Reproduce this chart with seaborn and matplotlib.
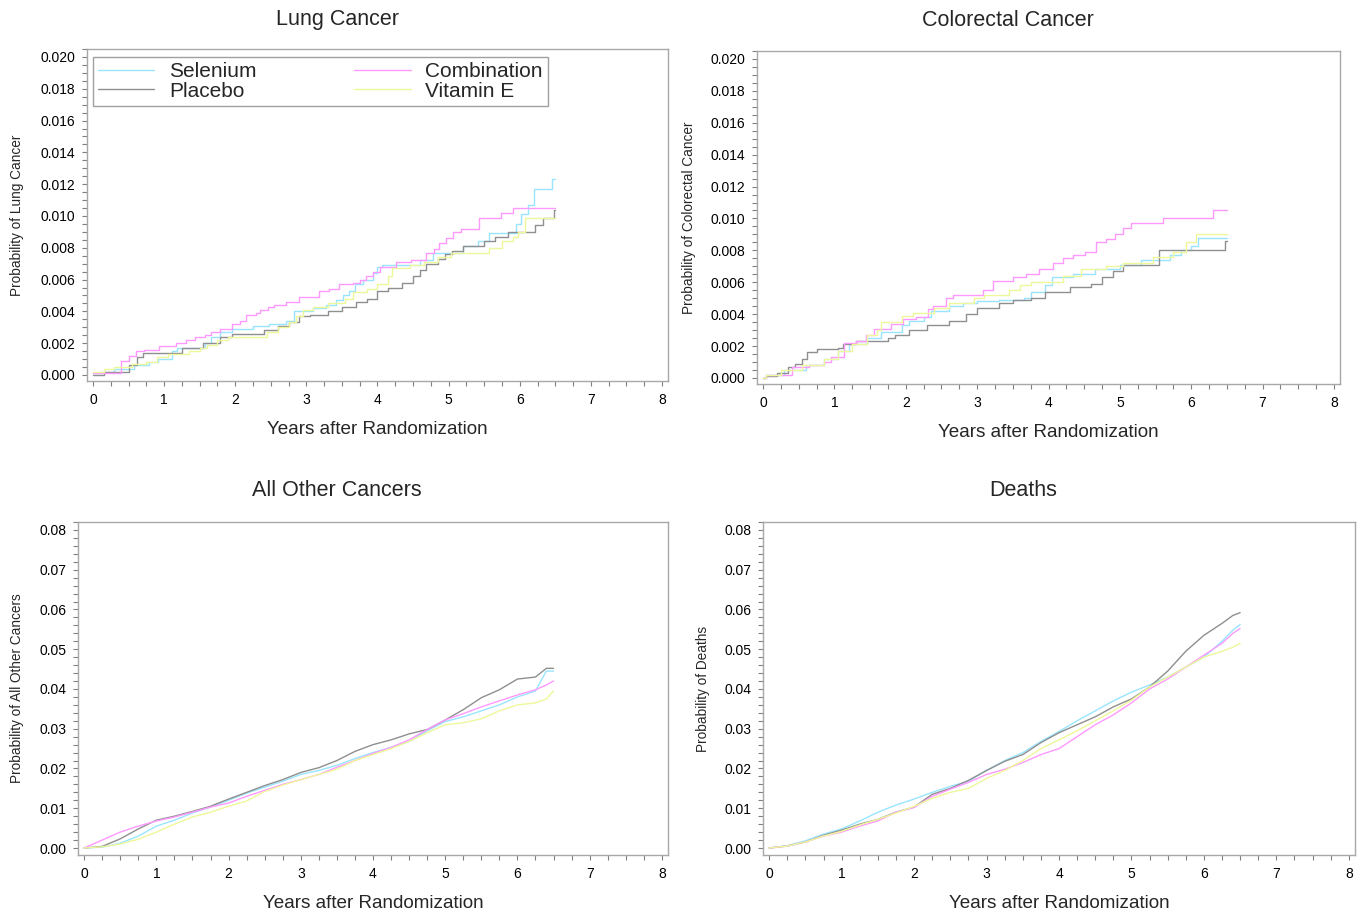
import pandas as pd
import matplotlib.pyplot as plt
import seaborn as sns
from matplotlib.lines import Line2D
from matplotlib.ticker import MultipleLocator, FormatStrFormatter

# %% 데이터 (그림에서 읽은 누적 확률 값)
GROUPS = ["Selenium", "Placebo", "Combination", "Vitamin E"]
COLORS = {"Selenium": "#99e5ff", "Placebo": "#8f8f8f",
          "Combination": "#ff99ff", "Vitamin E": "#eef79a"}

# Lung Cancer (step curves)
LUNG_SEL_YEARS = [0.00, 0.10, 0.30, 0.58, 0.78, 0.92, 1.11, 1.18, 1.57, 1.66, 1.78, 1.96, 2.25, 2.48, 2.71,
                  2.83, 3.09, 3.28, 3.42, 3.51, 3.60, 3.68, 3.79, 3.93, 4.00, 4.07, 4.60, 4.78, 5.20, 5.41,
                  5.57, 5.95, 6.02, 6.11, 6.20, 6.46, 6.50]
LUNG_SEL_PROB = [0.0001, 0.0002, 0.0004, 0.0006, 0.0008, 0.0010, 0.0015, 0.0017, 0.0020, 0.0024, 0.0027,
                 0.0029, 0.0031, 0.0032, 0.0034, 0.0040, 0.0042, 0.0044, 0.0047, 0.0050, 0.0053, 0.0057,
                 0.0060, 0.0064, 0.0068, 0.0069, 0.0072, 0.0077, 0.0081, 0.0084, 0.0089, 0.0095, 0.0101,
                 0.0107, 0.0117, 0.0123, 0.0123]
LUNG_PLA_YEARS = [0.00, 0.15, 0.50, 0.62, 0.70, 1.25, 1.55, 1.78, 1.95, 2.40, 2.60, 2.75, 2.90, 3.05, 3.30,
                  3.50, 3.70, 3.85, 4.00, 4.15, 4.35, 4.50, 4.60, 4.68, 4.85, 4.95, 5.05, 5.20, 5.50, 5.65,
                  5.83, 6.21, 6.33, 6.48, 6.50]
LUNG_PLA_PROB = [0.0000, 0.0002, 0.0006, 0.0011, 0.0014, 0.0017, 0.0020, 0.0024, 0.0026, 0.0028, 0.0031,
                 0.0033, 0.0037, 0.0038, 0.0040, 0.0043, 0.0046, 0.0048, 0.0053, 0.0055, 0.0058, 0.0062,
                 0.0066, 0.0070, 0.0073, 0.0076, 0.0078, 0.0081, 0.0084, 0.0087, 0.0090, 0.0094, 0.0099,
                 0.0104, 0.0104]
LUNG_COM_YEARS = [0.00, 0.39, 0.51, 0.60, 0.72, 0.93, 1.17, 1.31, 1.43, 1.57, 1.66, 1.78, 1.96, 2.06, 2.15,
                  2.29, 2.35, 2.46, 2.55, 2.71, 2.90, 3.18, 3.32, 3.46, 3.65, 3.75, 3.84, 3.93, 4.03, 4.26,
                  4.47, 4.68, 4.80, 4.87, 4.96, 5.06, 5.18, 5.43, 5.74, 5.90, 6.50]
LUNG_COM_PROB = [0.0001, 0.0009, 0.0012, 0.0015, 0.0016, 0.0018, 0.0020, 0.0022, 0.0024, 0.0025, 0.0027,
                 0.0029, 0.0032, 0.0034, 0.0038, 0.0039, 0.0041, 0.0043, 0.0044, 0.0046, 0.0049, 0.0053,
                 0.0054, 0.0057, 0.0058, 0.0060, 0.0062, 0.0065, 0.0068, 0.0071, 0.0072, 0.0077, 0.0079,
                 0.0083, 0.0086, 0.0090, 0.0092, 0.0099, 0.0102, 0.0105, 0.0105]
LUNG_VIT_YEARS = [0.00, 0.15, 0.30, 0.55, 0.75, 0.90, 1.05, 1.35, 1.50, 1.60, 1.75, 1.90, 2.45, 2.60, 2.75,
                  2.85, 2.95, 3.10, 3.30, 3.55, 3.65, 3.85, 4.00, 4.15, 4.20, 4.45, 4.65, 4.85, 5.04, 5.57,
                  5.75, 5.90, 5.97, 6.07, 6.50]
LUNG_VIT_PROB = [0.0002, 0.0004, 0.0005, 0.0007, 0.0008, 0.0011, 0.0013, 0.0015, 0.0017, 0.0019, 0.0022,
                 0.0024, 0.0027, 0.0030, 0.0033, 0.0037, 0.0041, 0.0043, 0.0045, 0.0048, 0.0052, 0.0054,
                 0.0057, 0.0062, 0.0067, 0.0069, 0.0071, 0.0074, 0.0077, 0.0080, 0.0084, 0.0087, 0.0090,
                 0.0099, 0.0099]

# Colorectal Cancer (step curves)
CRC_SEL_YEARS = [0.00, 0.04, 0.30, 0.60, 0.85, 1.05, 1.20, 1.45, 1.65, 1.95, 2.05, 2.25, 2.35, 2.60, 2.80,
                 3.00, 3.30, 3.65, 3.75, 3.95, 4.05, 4.35, 4.65, 5.00, 5.30, 5.70, 5.85, 6.00, 6.10, 6.50]
CRC_SEL_PROB = [0.0000, 0.0002, 0.0005, 0.0008, 0.0012, 0.0017, 0.0021, 0.0025, 0.0029, 0.0033, 0.0036,
                0.0038, 0.0042, 0.0045, 0.0047, 0.0048, 0.0049, 0.0050, 0.0054, 0.0058, 0.0063, 0.0065,
                0.0068, 0.0071, 0.0074, 0.0077, 0.0080, 0.0083, 0.0088, 0.0088]
CRC_PLA_YEARS = [0.00, 0.04, 0.20, 0.35, 0.45, 0.55, 0.62, 0.75, 1.05, 1.12, 1.30, 1.75, 1.85, 2.05, 2.30,
                 2.60, 2.85, 3.00, 3.30, 3.50, 3.75, 3.95, 4.30, 4.60, 4.75, 4.90, 5.05, 5.55, 6.47, 6.50]
CRC_PLA_PROB = [0.0000, 0.0001, 0.0003, 0.0007, 0.0009, 0.0012, 0.0016, 0.0018, 0.0019, 0.0021, 0.0023,
                0.0025, 0.0027, 0.0030, 0.0033, 0.0036, 0.0040, 0.0044, 0.0047, 0.0049, 0.0050, 0.0054,
                0.0057, 0.0059, 0.0063, 0.0067, 0.0071, 0.0080, 0.0086, 0.0086]
CRC_COM_YEARS = [0.00, 0.04, 0.41, 0.65, 0.86, 0.95, 1.14, 1.30, 1.44, 1.56, 1.79, 1.96, 2.14, 2.31, 2.38,
                 2.56, 2.66, 3.08, 3.22, 3.50, 3.69, 3.87, 4.06, 4.20, 4.34, 4.51, 4.67, 4.81, 4.93, 5.04,
                 5.16, 5.61, 6.31, 6.50]
CRC_COM_PROB = [0.0000, 0.0002, 0.0007, 0.0008, 0.0010, 0.0013, 0.0022, 0.0023, 0.0027, 0.0031, 0.0034,
                0.0037, 0.0038, 0.0043, 0.0045, 0.0050, 0.0052, 0.0055, 0.0061, 0.0063, 0.0065, 0.0068,
                0.0072, 0.0075, 0.0077, 0.0079, 0.0085, 0.0087, 0.0090, 0.0094, 0.0097, 0.0100, 0.0105,
                0.0105]
CRC_VIT_YEARS = [0.00, 0.04, 0.25, 0.55, 0.85, 1.05, 1.25, 1.45, 1.60, 1.65, 1.95, 2.10, 2.40, 2.60, 2.95,
                 3.10, 3.45, 3.60, 3.75, 4.20, 4.45, 4.80, 5.04, 5.47, 5.75, 5.93, 6.07, 6.50]
CRC_VIT_PROB = [0.0000, 0.0002, 0.0005, 0.0008, 0.0012, 0.0017, 0.0021, 0.0027, 0.0030, 0.0035, 0.0039,
                0.0041, 0.0044, 0.0047, 0.0050, 0.0052, 0.0055, 0.0058, 0.0060, 0.0064, 0.0068, 0.0070,
                0.0072, 0.0076, 0.0079, 0.0085, 0.0090, 0.0090]

# All Other Cancers / Deaths (dense curves, read on a common grid)
GRID_YEARS = [0.00, 0.25, 0.50, 0.75, 1.00, 1.25, 1.50, 1.75, 2.00, 2.25, 2.50, 2.75, 3.00, 3.25,
              3.50, 3.75, 4.00, 4.25, 4.50, 4.75, 5.00, 5.25, 5.50, 5.75, 6.00, 6.25, 6.40, 6.50]

OTHER_SEL = [0.0000, 0.0002, 0.0012, 0.0030, 0.0055, 0.0070, 0.0088, 0.0103, 0.0120, 0.0138, 0.0153,
             0.0168, 0.0185, 0.0195, 0.0208, 0.0225, 0.0240, 0.0253, 0.0268, 0.0295, 0.0318, 0.0330,
             0.0345, 0.0360, 0.0380, 0.0395, 0.0445, 0.0445]
OTHER_PLA = [0.0000, 0.0004, 0.0023, 0.0048, 0.0070, 0.0080, 0.0092, 0.0105, 0.0123, 0.0140, 0.0157,
             0.0172, 0.0190, 0.0202, 0.0220, 0.0243, 0.0260, 0.0272, 0.0287, 0.0298, 0.0322, 0.0348,
             0.0378, 0.0398, 0.0425, 0.0430, 0.0452, 0.0452]
OTHER_COM = [0.0000, 0.0020, 0.0040, 0.0055, 0.0068, 0.0078, 0.0090, 0.0103, 0.0113, 0.0130, 0.0145,
             0.0160, 0.0172, 0.0185, 0.0203, 0.0220, 0.0238, 0.0253, 0.0272, 0.0298, 0.0322, 0.0338,
             0.0355, 0.0370, 0.0385, 0.0398, 0.0410, 0.0420]
OTHER_VIT = [0.0000, 0.0003, 0.0010, 0.0022, 0.0040, 0.0060, 0.0078, 0.0090, 0.0105, 0.0118, 0.0142,
             0.0158, 0.0172, 0.0185, 0.0198, 0.0220, 0.0235, 0.0250, 0.0268, 0.0290, 0.0310, 0.0315,
             0.0325, 0.0345, 0.0360, 0.0365, 0.0375, 0.0395]

DEATH_SEL = [0.0000, 0.0006, 0.0018, 0.0035, 0.0048, 0.0068, 0.0090, 0.0108, 0.0123, 0.0140, 0.0155,
             0.0168, 0.0195, 0.0220, 0.0240, 0.0268, 0.0293, 0.0320, 0.0345, 0.0370, 0.0392, 0.0410,
             0.0430, 0.0455, 0.0480, 0.0520, 0.0548, 0.0562]
DEATH_PLA = [0.0000, 0.0005, 0.0015, 0.0032, 0.0045, 0.0060, 0.0072, 0.0090, 0.0103, 0.0135, 0.0150,
             0.0170, 0.0195, 0.0218, 0.0235, 0.0265, 0.0290, 0.0310, 0.0330, 0.0355, 0.0375, 0.0405,
             0.0445, 0.0495, 0.0535, 0.0565, 0.0585, 0.0592]
DEATH_COM = [0.0000, 0.0005, 0.0015, 0.0030, 0.0040, 0.0055, 0.0068, 0.0090, 0.0102, 0.0130, 0.0148,
             0.0165, 0.0185, 0.0198, 0.0215, 0.0235, 0.0250, 0.0280, 0.0310, 0.0335, 0.0365, 0.0400,
             0.0425, 0.0455, 0.0485, 0.0515, 0.0540, 0.0552]
DEATH_VIT = [0.0000, 0.0005, 0.0015, 0.0030, 0.0042, 0.0058, 0.0072, 0.0088, 0.0105, 0.0125, 0.0140,
             0.0150, 0.0175, 0.0195, 0.0220, 0.0250, 0.0272, 0.0295, 0.0320, 0.0345, 0.0372, 0.0405,
             0.0430, 0.0455, 0.0480, 0.0495, 0.0505, 0.0515]


def to_long(series):
    parts = [pd.DataFrame({"years": t, "prob": p, "group": g}) for g, (t, p) in series.items()]
    return pd.concat(parts, ignore_index=True)


lung_df = to_long({"Selenium": (LUNG_SEL_YEARS, LUNG_SEL_PROB), "Placebo": (LUNG_PLA_YEARS, LUNG_PLA_PROB),
                   "Combination": (LUNG_COM_YEARS, LUNG_COM_PROB), "Vitamin E": (LUNG_VIT_YEARS, LUNG_VIT_PROB)})
crc_df = to_long({"Selenium": (CRC_SEL_YEARS, CRC_SEL_PROB), "Placebo": (CRC_PLA_YEARS, CRC_PLA_PROB),
                  "Combination": (CRC_COM_YEARS, CRC_COM_PROB), "Vitamin E": (CRC_VIT_YEARS, CRC_VIT_PROB)})
other_df = to_long({"Selenium": (GRID_YEARS, OTHER_SEL), "Placebo": (GRID_YEARS, OTHER_PLA),
                    "Combination": (GRID_YEARS, OTHER_COM), "Vitamin E": (GRID_YEARS, OTHER_VIT)})
death_df = to_long({"Selenium": (GRID_YEARS, DEATH_SEL), "Placebo": (GRID_YEARS, DEATH_PLA),
                    "Combination": (GRID_YEARS, DEATH_COM), "Vitamin E": (GRID_YEARS, DEATH_VIT)})

# %% 그림
sns.set_style("white")
plt.rcParams['font.family'] = ['Liberation Sans', 'DejaVu Sans']

W, H = 1368, 914
fig = plt.figure(figsize=(W / 100, H / 100), dpi=100)

# (frame left, top, right, bottom) in pixels, title center, y-label x
panels = [
    dict(df=lung_df, title="Lung Cancer", ylab="Probability of Lung Cancer", steps=True,
         box=(87, 49, 668, 381), title_xy=(337, 19), ylab_x=17, fine=True),
    dict(df=crc_df, title="Colorectal Cancer", ylab="Probability of Colorectal Cancer", steps=True,
         box=(757, 51, 1340, 384), title_xy=(1008, 21), ylab_x=689, fine=True),
    dict(df=other_df, title="All Other Cancers", ylab="Probability of All Other Cancers", steps=False,
         box=(78, 522, 668, 855), title_xy=(337, 491), ylab_x=17, fine=False),
    dict(df=death_df, title="Deaths", ylab="Probability of Deaths", steps=False,
         box=(763, 522, 1355, 855), title_xy=(1023, 491), ylab_x=703, fine=False),
]

frame_col = "#a8a8a8"
for i, p in enumerate(panels):
    l, t, r, b = p["box"]
    ax = fig.add_axes([l / W, 1 - b / H, (r - l) / W, (b - t) / H])
    sns.lineplot(data=p["df"], x="years", y="prob", hue="group", hue_order=GROUPS, palette=COLORS,
                 estimator=None, sort=False, drawstyle="steps-post" if p["steps"] else "default",
                 linewidth=1.0, legend=False, ax=ax)
    ax.set_xlim(-0.085, 8.085)
    if p["fine"]:
        ax.set_ylim(-0.00038, 0.0205)
        ax.yaxis.set_major_locator(MultipleLocator(0.002))
        ax.yaxis.set_minor_locator(MultipleLocator(0.0005))
        ax.yaxis.set_major_formatter(FormatStrFormatter("%.3f"))
    else:
        ax.set_ylim(-0.00176, 0.082)
        ax.yaxis.set_major_locator(MultipleLocator(0.01))
        ax.yaxis.set_minor_locator(MultipleLocator(0.002))
        ax.yaxis.set_major_formatter(FormatStrFormatter("%.2f"))
    ax.xaxis.set_major_locator(MultipleLocator(1))
    ax.xaxis.set_minor_locator(MultipleLocator(0.25))
    ax.tick_params(which="both", bottom=True, left=True, direction="out", length=3.5, width=0.8,
                   color="#808080", labelsize=10, labelcolor="black", pad=5)
    for sp in ax.spines.values():
        sp.set_color(frame_col)
        sp.set_linewidth(1.0)

    ax.set_xlabel("Years after Randomization", fontsize=13.6)
    ax.xaxis.set_label_coords(0.5, -0.12)
    ax.set_ylabel("")

    tx, ty = p["title_xy"]
    fig.text(tx / W, 1 - ty / H, p["title"], ha="center", va="center", fontsize=15.5)
    fig.text(p["ylab_x"] / W, 1 - (t + b) / 2 / H, p["ylab"], ha="center", va="center",
             rotation=90, fontsize=9.8)

    if i == 0:
        handles = [Line2D([], [], color=COLORS[g], lw=1.0) for g in GROUPS]
        leg = ax.legend(handles, GROUPS, loc="upper left",
                        bbox_to_anchor=((93 - l) / (r - l), (b - 57) / (b - t)), borderaxespad=0,
                        ncol=2, fontsize=15, handlelength=2.7, handletextpad=0.7,
                        columnspacing=4.7, labelspacing=0.02, borderpad=0.25,
                        frameon=True, fancybox=False, edgecolor="#a0a0a0", framealpha=1)
        leg.get_frame().set_linewidth(1.0)

fig.savefig("out.png", dpi=100)
